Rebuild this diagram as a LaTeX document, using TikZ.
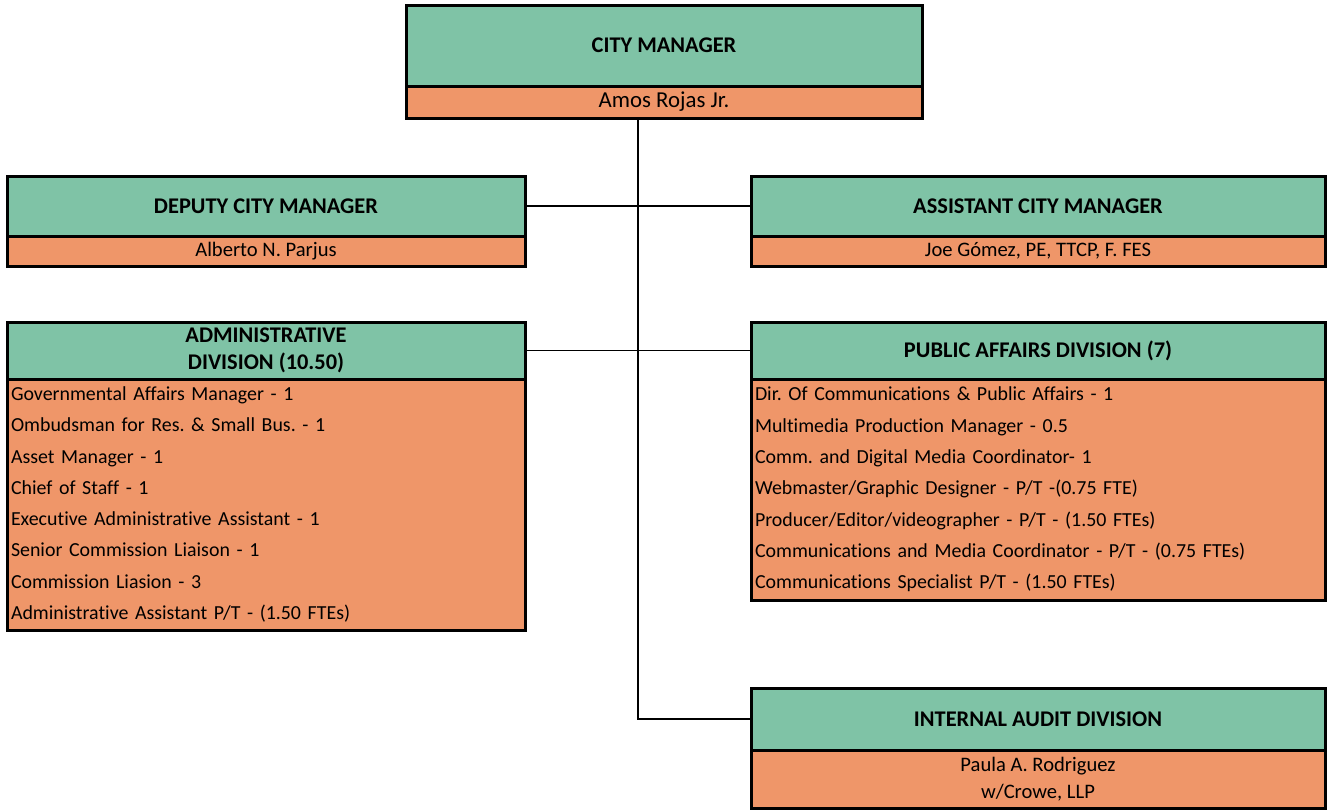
\documentclass[tikz,border=0pt]{standalone}
\usepackage{fontspec}
\setmainfont{Carlito}[Ligatures={NoCommon}]
\frenchspacing
\definecolor{boxgreen}{HTML}{7FC3A6}
\definecolor{boxorange}{HTML}{EF9669}
\usepackage{tikz}
\usetikzlibrary{positioning}
\tikzset{
	titlenode/.style={
			rectangle,
			draw=black,
			line width=1.5pt,
			fill=boxgreen,
			font=\bfseries\fontsize{11.2}{13.5}\selectfont,
			align=center,
			inner sep=0pt,
			outer sep=0pt
		},
	namenode/.style={
			rectangle,
			draw=black,
			line width=1.5pt,
			fill=boxorange,
			font=\fontsize{10.3}{13.5}\selectfont,
			align=center,
			inner sep=0pt,
			outer sep=0pt
		},
	listnode/.style={
			namenode,
			font=\fontsize{9.95}{15.65}\selectfont,
			align=left,
			inner xsep=2pt
		},
	link/.style={
			draw=black,
			line width=0.75pt
		}
}

\begin{document}
\begin{tikzpicture}[x=0.5pt, y=-0.5pt]
\useasboundingbox (0,0) rectangle (1328,811);

\node[titlenode, minimum width=258pt, minimum height=40.5pt, anchor=north west] (cm) at (406,5) {CITY MANAGER};
\node[namenode, font=\fontsize{11.4}{13.5}\selectfont, minimum width=258pt, minimum height=16pt, below=0pt of cm] (cmname) {Amos Rojas Jr.};

\node[titlenode, minimum width=259pt, minimum height=30pt, anchor=north west] (dcm) at (7,176) {DEPUTY CITY MANAGER};
\node[namenode, minimum width=259pt, minimum height=15pt, below=0pt of dcm] (dcmname) {Alberto N. Parjus};

\node[titlenode, minimum width=287pt, minimum height=30pt, anchor=north west] (acm) at (751,176) {ASSISTANT CITY MANAGER};
\node[namenode, minimum width=287pt, minimum height=15pt, below=0pt of acm] (acmname) {Joe Gómez, PE, TTCP, F. FES};

\node[titlenode, minimum width=259pt, minimum height=28.5pt, anchor=north west] (adm) at (7,322) {ADMINISTRATIVE\\DIVISION (10.50)};
\node[listnode, text width=255pt, minimum height=125.5pt, below=0pt of adm] (admlist) {%
Governmental Affairs Manager - 1\\
Ombudsman for Res. \& Small Bus. - 1\\
Asset Manager - 1\\
Chief of Staff - 1\\
Executive Administrative Assistant - 1\\
Senior Commission Liaison - 1\\
Commission Liasion - 3\\
Administrative Assistant P/T - (1.50 FTEs)};

\node[titlenode, minimum width=287pt, minimum height=28.5pt, anchor=north west] (pad) at (751,322) {PUBLIC AFFAIRS DIVISION (7)};
\node[listnode, text width=283pt, minimum height=110.5pt, below=0pt of pad] (padlist) {%
Dir. Of Communications \& Public Affairs - 1\\
Multimedia Production Manager - 0.5\\
Comm. and Digital Media Coordinator- 1\\
Webmaster/Graphic Designer - P/T -(0.75 FTE)\\
Producer/Editor/videographer - P/T - (1.50 FTEs)\\
Communications and Media Coordinator - P/T - (0.75 FTEs)\\
Communications Specialist P/T - (1.50 FTEs)};

\node[titlenode, minimum width=287pt, minimum height=31pt, anchor=north west] (iad) at (751,688) {INTERNAL AUDIT DIVISION};
\node[namenode, minimum width=287pt, minimum height=29pt, below=0pt of iad] (iadname) {Paula A. Rodriguez\\w/Crowe, LLP};

\coordinate (trunk) at (638,0);

\draw[link] (cmname.south -| trunk) |- (iad.west);
\draw[link] (dcm.east) -- (acm.west);
\draw[link] (adm.east) -- (pad.west);
\end{tikzpicture}
\end{document}
